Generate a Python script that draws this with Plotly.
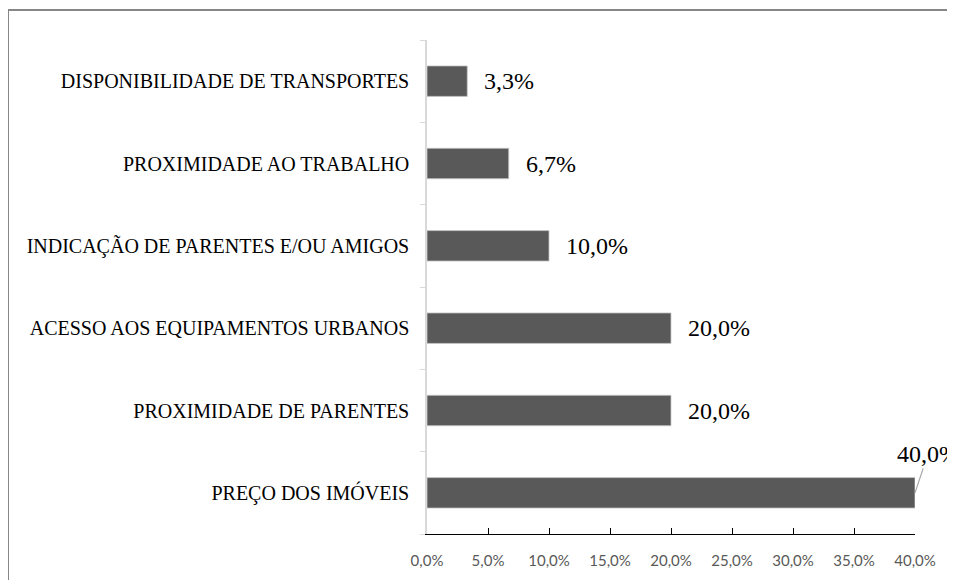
import plotly.graph_objects as go

# categories listed bottom to top
categories = [
    "PREÇO DOS IMÓVEIS",
    "PROXIMIDADE DE PARENTES",
    "ACESSO AOS EQUIPAMENTOS URBANOS",
    "INDICAÇÃO DE PARENTES E/OU AMIGOS",
    "PROXIMIDADE AO TRABALHO",
    "DISPONIBILIDADE DE TRANSPORTES",
]
shares = [40.0, 20.0, 20.0, 10.0, 6.7, 3.3]
x_ticks = [0, 5, 10, 15, 20, 25, 30, 35, 40]

SERIF = "Liberation Serif"
SANS = "Lato"
# the page body keeps its default 8px margin, so the figure is shrunk by 8px
W, H = 947, 572
M_L, M_R, M_T, M_B = 419, 40, 32, 46
plot_w = W - M_L - M_R
plot_h = H - M_T - M_B


def pct(v: float) -> str:
    return f"{v:.1f}".replace(".", ",") + "%"


fig = go.Figure(
    go.Bar(
        y=categories,
        x=shares,
        orientation="h",
        width=0.37,
        marker={"color": "#595959", "line": {"color": "#c8c8c8", "width": 0.8}},
        hoverinfo="skip",
    )
)

annotations = []
for cat, val in zip(categories, shares):
    if val >= max(x_ticks):
        # the last bar hits the axis end, so its label sits above with a leader
        annotations.append(
            dict(
                x=val, y=cat, text=pct(val), showarrow=True,
                arrowhead=0, arrowwidth=1.2, arrowcolor="#a6a6a6",
                ax=13, ay=-39, standoff=0,
                font={"family": SERIF, "size": 24, "color": "#000000"},
            )
        )
    else:
        annotations.append(
            dict(
                x=val, y=cat, text=pct(val), showarrow=False,
                xanchor="left", xshift=15,
                font={"family": SERIF, "size": 24, "color": "#000000"},
            )
        )

# outer frame (only the top and left edges show in the reference)
fx = (0 - M_L) / plot_w
fy = 1 + (M_T - 2) / plot_h
frame = {"color": "#878787", "width": 2}
shapes = [
    dict(type="line", xref="paper", yref="paper", x0=fx, x1=1.3, y0=fy, y1=fy, line=frame),
    dict(type="line", xref="paper", yref="paper", x0=fx, x1=fx, y0=fy, y1=-0.3, line=frame),
]

fig.update_layout(
    width=W,
    height=H,
    margin=dict(l=M_L, r=M_R, t=M_T, b=M_B),
    paper_bgcolor="#ffffff",
    plot_bgcolor="#ffffff",
    showlegend=False,
    annotations=annotations,
    shapes=shapes,
)
fig.update_xaxes(
    range=[0, 40],
    tickvals=x_ticks,
    ticktext=[pct(v) for v in x_ticks],
    showgrid=False,
    zeroline=False,
    showline=True,
    linecolor="#000000",
    linewidth=1,
    ticks="inside",
    ticklen=6,
    tickcolor="#000000",
    tickfont={"family": SANS, "size": 15, "color": "#595959"},
    ticklabelstandoff=13,
)
fig.update_yaxes(
    type="category",
    categoryorder="array",
    categoryarray=categories,
    tickson="boundaries",
    showgrid=False,
    zeroline=False,
    showline=True,
    linecolor="#d9d9d9",
    linewidth=1.5,
    ticks="outside",
    ticklen=5,
    tickcolor="#d9d9d9",
    tickfont={"family": SERIF, "size": 20, "color": "#000000"},
    ticklabelstandoff=12,
)

fig.write_html("out.html")
